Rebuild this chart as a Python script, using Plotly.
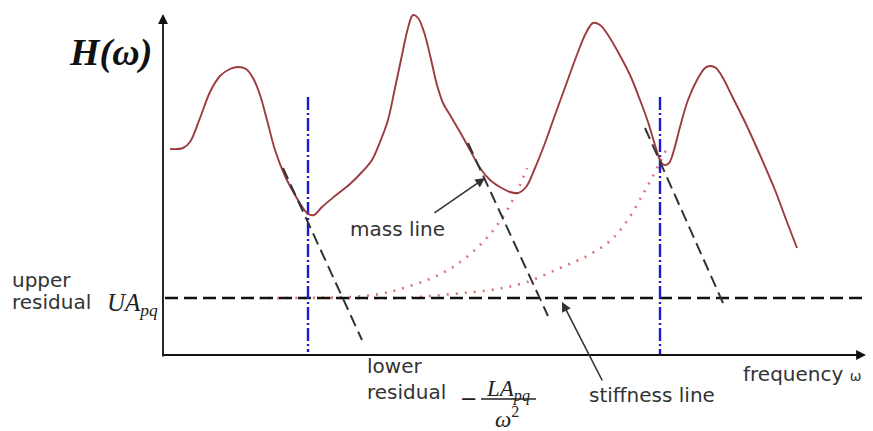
import plotly.graph_objects as go

frf_x = [170, 183, 190, 200, 210, 220, 230, 238, 246, 253, 260, 267, 275, 285, 295, 303, 308, 314,
         322, 335, 350, 362, 372, 380, 388, 395, 402, 408, 413, 418, 424, 430, 437, 443, 450, 460,
         470, 480, 490, 500, 510, 518, 526, 535, 545, 555, 567, 578, 586, 593, 600, 608, 618, 630,
         640, 648, 655, 660, 664, 669, 674, 680, 688, 697, 705, 710, 716, 723, 732, 745, 760, 775,
         787, 797]
frf_y = [149, 148, 142, 118, 92, 76, 69, 67, 69, 78, 95, 120, 150, 176, 195, 208, 214, 215,
         207, 196, 184, 172, 160, 142, 120, 88, 55, 28, 15, 18, 32, 55, 85, 103, 115, 132,
         150, 168, 180, 187, 192, 193, 187, 168, 143, 115, 82, 52, 33, 23, 25, 35, 52, 75,
         100, 122, 145, 160, 165, 163, 150, 127, 100, 80, 68, 66, 68, 78, 96, 122, 155, 190,
         222, 248]

stiff_a_x = [250, 300, 350, 380, 400, 427, 453, 477, 495, 510, 520, 527]
stiff_a_y = [298, 298, 297, 294, 289, 280, 267, 248, 228, 205, 185, 168]
stiff_b_x = [330, 400, 430, 463, 497, 527, 560, 587, 610, 627, 643, 653, 660, 667]
stiff_b_y = [298, 298, 296, 293, 289, 282, 268, 256, 241, 221, 194, 176, 162, 148]

mass_lines = [([283, 362], [168, 340]),
              ([468, 548], [143, 316]),
              ([645, 723], [128, 303])]

blue_x = [308, 660]
blue_top = [97, 97]
blue_bottom = [352, 355]

residual_y = 298
residual_x = [165, 865]

axis_origin = (163, 355)
axis_x_end = 866
axis_y_end = 14

fig = go.Figure()

# stiffness (red dotted) curves
for xs, ys in [(stiff_a_x, stiff_a_y), (stiff_b_x, stiff_b_y)]:
    fig.add_trace(go.Scatter(x=xs, y=ys, mode="lines",
                             line=dict(color="#d97575", width=2.6, dash="2px,7px", shape="spline"),
                             hoverinfo="skip"))

# upper residual dashed line
fig.add_trace(go.Scatter(x=residual_x, y=[residual_y, residual_y], mode="lines",
                         line=dict(color="#111111", width=2.4, dash="13px,6px"), hoverinfo="skip"))

# blue dash-dot verticals
for bx, bt, bb in zip(blue_x, blue_top, blue_bottom):
    fig.add_trace(go.Scatter(x=[bx, bx], y=[bt, bb], mode="lines",
                             line=dict(color="#1c1ccc", width=2.4, dash="13px,3px,2px,3px"), hoverinfo="skip"))

# FRF curve
fig.add_trace(go.Scatter(x=frf_x, y=frf_y, mode="lines", line=dict(color="#9c3b3f", width=1.9, shape="spline"),
                         hoverinfo="skip"))

# mass lines
for xs, ys in mass_lines:
    fig.add_trace(go.Scatter(x=xs, y=ys, mode="lines", line=dict(color="#333333", width=2, dash="12px,6px"),
                             hoverinfo="skip"))

annotations = []
# axes as arrows
annotations.append(dict(x=axis_origin[0], y=axis_y_end, ax=axis_origin[0], ay=axis_origin[1] + 3,
                        xref="x", yref="y", axref="x", ayref="y", text="", showarrow=True,
                        arrowhead=2, arrowsize=1.1, arrowwidth=1.8, arrowcolor="#111111"))
annotations.append(dict(x=axis_x_end, y=axis_origin[1], ax=axis_origin[0] - 1, ay=axis_origin[1],
                        xref="x", yref="y", axref="x", ayref="y", text="", showarrow=True,
                        arrowhead=2, arrowsize=1.1, arrowwidth=1.8, arrowcolor="#111111"))
# pointer arrows
annotations.append(dict(x=485, y=178, ax=433, ay=214, xref="x", yref="y", axref="x", ayref="y", text="",
                        showarrow=True, arrowhead=2, arrowsize=1.2, arrowwidth=1.6, arrowcolor="#333333"))
annotations.append(dict(x=562, y=302, ax=603, ay=382, xref="x", yref="y", axref="x", ayref="y", text="",
                        showarrow=True, arrowhead=2, arrowsize=1.2, arrowwidth=1.6, arrowcolor="#333333"))

sans = dict(family="DejaVu Sans", size=20, color="#333333")
serif_it = dict(family="Liberation Serif", size=25, color="#222222")

def txt(x, y, t, font, xanchor="left"):
    annotations.append(dict(x=x, y=y, xref="x", yref="y", text=t, showarrow=False, font=font,
                            xanchor=xanchor, yanchor="middle"))

txt(110, 52, "<b><i>H(ω)</i></b>", dict(family="Liberation Serif", size=38, color="#111111"), xanchor="center")
txt(10, 280, "upper", sans)
txt(10, 302, "residual", sans)
txt(105, 304, "<i>UA</i><sub><i>pq</i></sub>", serif_it)
txt(348, 229, "mass line", sans)
txt(365, 366, "lower", sans)
txt(365, 392, "residual", sans)
txt(458, 399, "−", dict(family="DejaVu Sans", size=21, color="#222222"))
txt(508, 390, "<i>LA</i><sub><i>pq</i></sub>", dict(family="Liberation Serif", size=23, color="#222222"), xanchor="center")
txt(507, 417, "<i>ω</i><sup>2</sup>", dict(family="Liberation Serif", size=23, color="#222222"), xanchor="center")
txt(587, 395, "stiffness line", sans)
txt(741, 374, "frequency <span style='font-size:14px'>ω</span>", sans)

shapes = [dict(type="line", xref="x", yref="y", x0=481, x1=536, y0=399, y1=399,
               line=dict(color="#222222", width=1.5))]

fig.update_layout(
    width=873, height=431, margin=dict(l=0, r=0, t=0, b=0),
    paper_bgcolor="white", plot_bgcolor="white", showlegend=False,
    xaxis=dict(range=[0, 873], visible=False, fixedrange=True),
    yaxis=dict(range=[431, 0], visible=False, fixedrange=True),
    annotations=annotations, shapes=shapes,
)

fig.write_html("out.html")
